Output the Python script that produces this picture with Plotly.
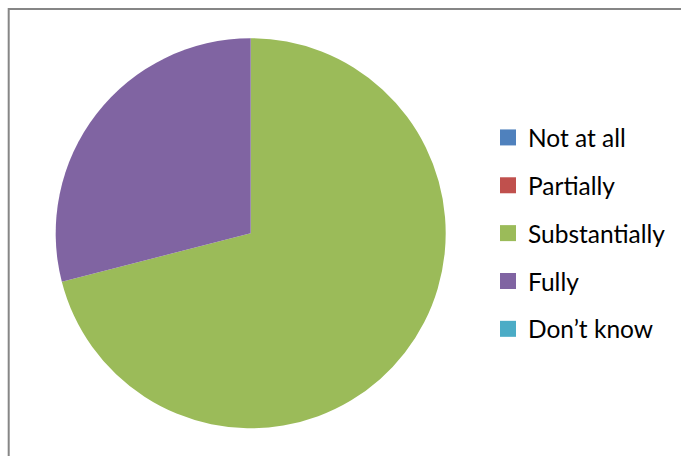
import plotly.graph_objects as go

# Survey answer categories and their shares
categories = ["Not at all", "Partially", "Substantially", "Fully", "Don\u2019t know"]
shares = [0, 0, 71, 29, 0]
colors = ["#4F81BD", "#C0504D", "#9BBB59", "#8064A2", "#4BACC6"]

W, H = 681, 456

fig = go.Figure()
fig.add_trace(go.Pie(
    labels=categories,
    values=shares,
    marker=dict(colors=colors, line=dict(width=0)),
    sort=False,
    direction="clockwise",
    rotation=0,
    textinfo="none",
    hoverinfo="label+percent",
    domain=dict(x=[55.7 / W, 445.7 / W], y=[1 - 428.5 / H, 1 - 38 / H]),
    showlegend=False,
))

# Legend keys, one group per category so the entries can be spaced apart
for name, color in zip(categories, colors):
    fig.add_trace(go.Scatter(
        x=[None], y=[None], mode="markers", name=name,
        legendgroup=name,
        marker=dict(symbol="square", size=16, color=color),
        hoverinfo="skip",
    ))

# Chart-area frame (extends past the right and bottom edges)
fig.add_shape(
    type="rect", xref="paper", yref="paper",
    x0=8.7 / W, x1=1.05, y0=-0.05, y1=1 - 9 / H,
    line=dict(color="#868686", width=2),
)

fig.update_layout(
    width=W, height=H,
    margin=dict(l=0, r=0, t=0, b=0),
    paper_bgcolor="white",
    plot_bgcolor="white",
    xaxis=dict(visible=False),
    yaxis=dict(visible=False),
    showlegend=True,
    legend=dict(
        x=488 / W, y=1 - 115 / H, xanchor="left", yanchor="top",
        font=dict(family="Lato, Liberation Sans, sans-serif", size=24.5, color="#000000"),
        traceorder="grouped",
        tracegroupgap=13,
        bgcolor="rgba(0,0,0,0)",
    ),
)

fig.write_html("out.html")
